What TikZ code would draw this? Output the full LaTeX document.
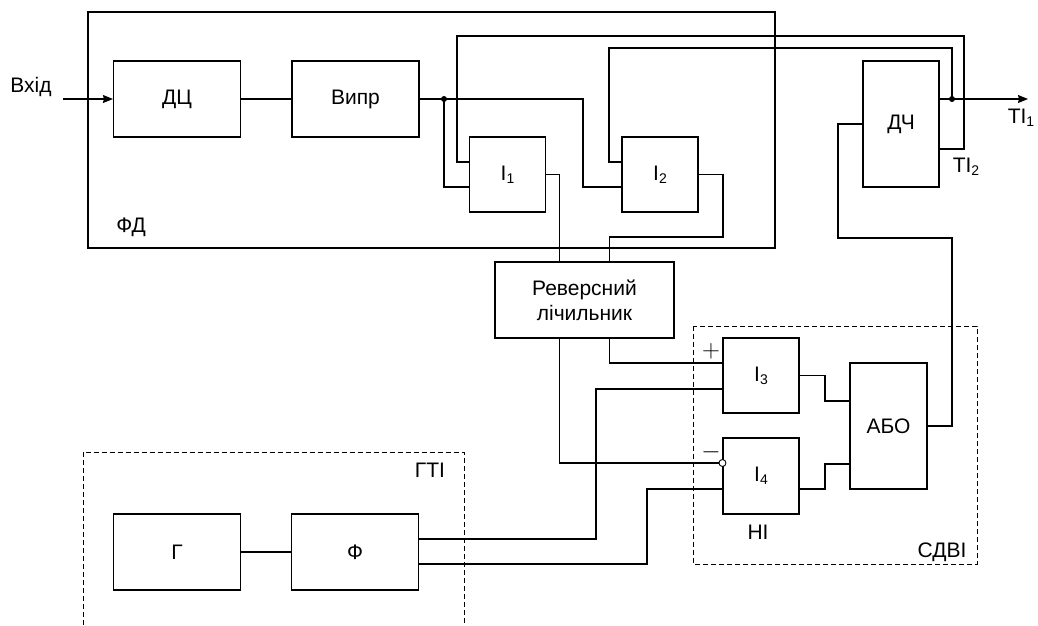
\documentclass[tikz,border=0pt]{standalone}
\usepackage{fontspec}
\setmainfont{Liberation Sans}
\usetikzlibrary{arrows.meta,calc}
\newcommand\sub[1]{\raisebox{-0.3ex}{\fontsize{14}{14}\selectfont #1}}

\begin{document}
\begin{tikzpicture}[
  x=1pt, y=-1pt,
  line width=1.1pt,
  box/.style={draw, minimum width=76pt, minimum height=75pt, inner sep=0pt,
              font=\fontsize{21}{25}\selectfont, align=center},
  wide/.style={box, minimum width=127pt, minimum height=76pt},
  tall/.style={box, minimum height=126pt},
  arr/.style={-{Stealth[length=10pt,width=8pt,inset=1pt]}},
  dframe/.style={line width=0.9pt, dash pattern=on 5pt off 3pt},
  lbl/.style={font=\fontsize{21}{25}\selectfont, inner sep=0pt},
  sign/.style={font=\fontsize{26}{26}\selectfont, inner sep=0pt},
  jdot/.style={circle, fill, inner sep=0pt, minimum size=6pt},
  invdot/.style={circle, draw, fill=white, line width=0.9pt, inner sep=0pt, minimum size=7pt}
]
\useasboundingbox (0,0) rectangle (1038,625);

% frames
\draw (88,12) rectangle (775,248);
\draw[dframe] (693,326) rectangle (977,564);
\draw[dframe] (83,625) -- (83,452) -- (464,452) -- (464,625);

\node[wide] (dc) at (177,99) {ДЦ};
\node[wide] (vypr) at (355.5,99) {Випр};
\node[box] (i1) at (507.5,174.5) {І\sub{1}};
\node[box] (i2) at (660,174.5) {І\sub{2}};
\node[tall] (dch) at (901,124) {ДЧ};
\node[box, minimum width=179pt, minimum height=76pt] (rl) at (584.5,300) {Реверсний\\лічильник};
\node[box] (i3) at (761,375.5) {І\sub{3}};
\node[box, minimum height=76pt] (i4) at (761,476) {І\sub{4}};
\node[tall, minimum width=77pt] (abo) at (888.5,426) {АБО};
\node[wide] (g) at (177,552) {Г};
\node[wide] (f) at (355,552) {Ф};

\coordinate (in) at (63,99);
\coordinate (out) at (1028,99);
\node[jdot] (j1) at (444,99) {};
\node[jdot] (j2) at (952,99) {};
\node[invdot] (ninv) at ([yshift=13pt]i4.west) {};

\draw[arr] (in) -- (dc);
\draw (dc) -- (vypr);
\draw (vypr.east) -- (j1.center) -- (583,99) |- ([yshift=-12.5pt]i2.west);
\draw (j1.center) |- ([yshift=-12.5pt]i1.west);
\draw ([yshift=-25pt]dch.east) -| (964,36) -| (457,162) -- ([yshift=12.5pt]i1.west);
\draw (j2.center) |- (609,48) |- ([yshift=12.5pt]i2.west);
\draw[arr] ([yshift=25pt]dch.east) -- (out);
\draw (i1.east) -| ([xshift=-25pt]rl.north);
\draw (i2.east) -| (723,237) -| ([xshift=25pt]rl.north);
\draw ([xshift=25pt]rl.south) |- ([yshift=12.5pt]i3.west);
\draw ([xshift=-25pt]rl.south) |- (ninv.west);
\draw ([yshift=13pt]f.east) -| (596,389) -- ([yshift=-13.5pt]i3.west);
\draw ([yshift=-12pt]f.east) -| (647,489) -- ([yshift=-13pt]i4.west);
\draw (i3.east) -| (825,401) -- ([yshift=25pt]abo.west);
\draw ([yshift=-13pt]i4.east) -| (825,464) -- ([yshift=-38pt]abo.west);
\draw (abo.east) -| (952,238) -| (838,124) -- (dch.west);
\draw (g) -- (f);

% annotations
\node[lbl] (vkhid) at (31,87) {Вхід};
\node[lbl] (fdl) at (131,227) {ФД};
\node[lbl] (t1) at (1021,118) {ТІ\sub{1}};
\node[lbl] (t2) at (966,167) {ТІ\sub{2}};
\node[sign] (plus) at (711,351) {$+$};
\node[sign] (minus) at (711,452) {$-$};
\node[lbl] (ni) at (758,532) {НІ};
\node[lbl] (sdvi) at (942,552) {СДВІ};
\node[lbl] (gti) at (430,470) {ГТІ};
\end{tikzpicture}
\end{document}
